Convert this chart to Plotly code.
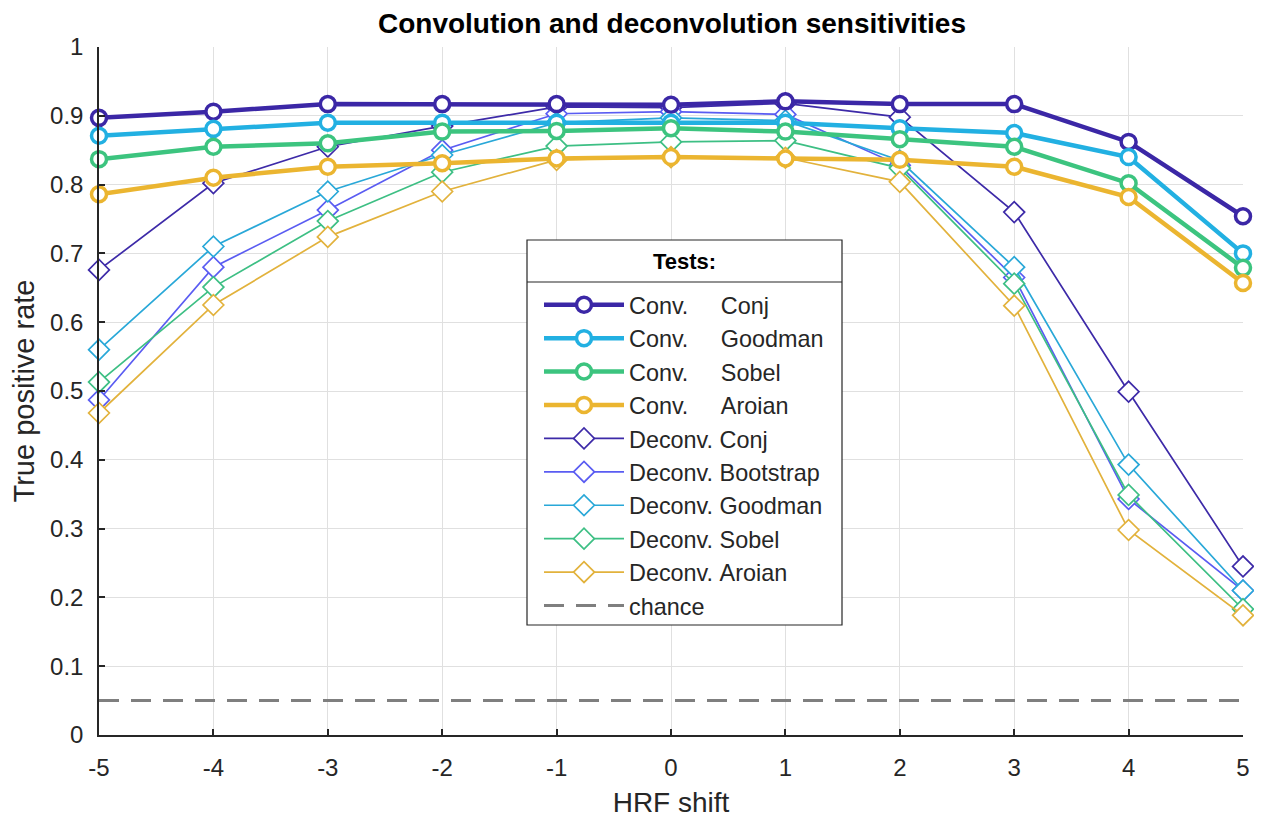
import plotly.graph_objects as go

x_shift = [-5, -4, -3, -2, -1, 0, 1, 2, 3, 4, 5]

conv_conj    = [0.897, 0.906, 0.917, 0.917, 0.917, 0.916, 0.921, 0.917, 0.917, 0.862, 0.754]
conv_goodman = [0.871, 0.881, 0.890, 0.890, 0.890, 0.890, 0.890, 0.882, 0.875, 0.840, 0.700]
conv_sobel   = [0.837, 0.855, 0.860, 0.877, 0.878, 0.882, 0.877, 0.866, 0.855, 0.802, 0.679]
conv_aroian  = [0.786, 0.810, 0.826, 0.831, 0.838, 0.840, 0.838, 0.836, 0.826, 0.782, 0.657]

deconv_conj      = [0.676, 0.802, 0.855, 0.885, 0.913, 0.912, 0.918, 0.898, 0.760, 0.499, 0.245]
deconv_bootstrap = [0.487, 0.680, 0.763, 0.850, 0.903, 0.906, 0.902, 0.828, 0.665, 0.343, 0.210]
deconv_goodman   = [0.560, 0.710, 0.790, 0.843, 0.890, 0.897, 0.893, 0.835, 0.680, 0.393, 0.210]
deconv_sobel     = [0.513, 0.651, 0.747, 0.818, 0.856, 0.862, 0.864, 0.824, 0.656, 0.349, 0.183]
deconv_aroian    = [0.468, 0.625, 0.724, 0.790, 0.836, 0.840, 0.839, 0.804, 0.624, 0.298, 0.174]

chance_level = [0.05] * len(x_shift)

y_ticks = [0, 0.1, 0.2, 0.3, 0.4, 0.5, 0.6, 0.7, 0.8, 0.9, 1]
y_ticktext = ["0", "0.1", "0.2", "0.3", "0.4", "0.5", "0.6", "0.7", "0.8", "0.9", "1"]

NB = "\u00a0"
conv_series = [
    ("Conv." + NB * 5 + "Conj", conv_conj, "#3b27a6"),
    ("Conv." + NB * 5 + "Goodman", conv_goodman, "#22b0e2"),
    ("Conv." + NB * 5 + "Sobel", conv_sobel, "#3cc47f"),
    ("Conv." + NB * 5 + "Aroian", conv_aroian, "#ebb530"),
]
deconv_series = [
    ("Deconv." + NB + "Conj", deconv_conj, "#3d2aa8"),
    ("Deconv." + NB + "Bootstrap", deconv_bootstrap, "#5a5cf2"),
    ("Deconv." + NB + "Goodman", deconv_goodman, "#29a8d8"),
    ("Deconv." + NB + "Sobel", deconv_sobel, "#3dbf84"),
    ("Deconv." + NB + "Aroian", deconv_aroian, "#e2b23c"),
]

FONT = "Liberation Sans, Arial, Helvetica, sans-serif"
TXT = "#262626"
fig = go.Figure()

ranks = {name: i + 1 for i, (name, _, _) in enumerate(conv_series + deconv_series)}

# deconvolution traces first (drawn underneath the convolution ones)
for name, vals, col in deconv_series:
    fig.add_trace(go.Scatter(
        x=x_shift, y=vals, name=name, mode="lines+markers",
        line=dict(color=col, width=1.7),
        marker=dict(symbol="diamond", size=16, color="white",
                    line=dict(color=col, width=1.7)),
        cliponaxis=False, legendgroup=name, legendrank=ranks[name],
    ))

fig.add_trace(go.Scatter(
    x=x_shift, y=chance_level, name="chance", mode="lines",
    line=dict(color="#7f7f7f", width=3, dash="20px,12px"),
    legendgroup="chance", legendrank=100,
))

for name, vals, col in conv_series:
    fig.add_trace(go.Scatter(
        x=x_shift, y=vals, name=name, mode="lines+markers",
        line=dict(color=col, width=4.5),
        marker=dict(symbol="circle", size=15, color="white",
                    line=dict(color=col, width=3.5)),
        cliponaxis=False, legendgroup=name, legendrank=ranks[name],
    ))

axis_common = dict(
    showline=True, linecolor=TXT, linewidth=1.5,
    ticks="inside", ticklen=6, tickcolor=TXT, tickwidth=1.5,
    showgrid=True, gridcolor="#e0e0e0", gridwidth=1,
    zeroline=False, mirror=False,
    tickfont=dict(family=FONT, size=24, color=TXT),
)

# legend frame (white box + border + separator under the title), in
# paper coordinates of the plot area (x 99..1243, y 47..735 on screen)
def px(xp):
    return (xp - 99) / 1144

def py(yp):
    return (735 - yp) / 688

box_l, box_r, box_t, box_b, sep_y = px(527), px(842), py(240), py(625), py(282)
fig.add_shape(type="rect", xref="paper", yref="paper",
              x0=box_l, x1=box_r, y0=box_b, y1=box_t,
              fillcolor="white", line=dict(color=TXT, width=1.2), layer="above")
fig.add_shape(type="line", xref="paper", yref="paper",
              x0=box_l, x1=box_r, y0=sep_y, y1=sep_y,
              line=dict(color=TXT, width=1.2), layer="above")
fig.add_annotation(text="<b>Tests:</b>", xref="paper", yref="paper",
                   x=(box_l + box_r) / 2, y=py(261), xanchor="center", yanchor="middle",
                   showarrow=False, font=dict(family=FONT, size=22, color="black"))

# page body has an 8px margin: compensate so the plot area lands on
# x 99..1243 and y 47..735 in the screenshot
fig.update_layout(
    width=1262, height=819,
    paper_bgcolor="white", plot_bgcolor="white",
    margin=dict(l=91, r=27, t=39, b=92, autoexpand=False),
    title=dict(text="<b>Convolution and deconvolution sensitivities</b>",
               x=(672 - 8) / 1262, xanchor="center",
               y=1 - (23 - 8) / 819, yanchor="middle",
               font=dict(family=FONT, size=28, color="black")),
    xaxis=dict(range=[-5, 5], tickmode="array", tickvals=x_shift,
               ticktext=[str(v) for v in x_shift], ticklabelstandoff=10,
               title=dict(text="HRF shift", standoff=13,
                          font=dict(family=FONT, size=28, color=TXT)),
               **axis_common),
    yaxis=dict(range=[0, 1], tickmode="array",
               tickvals=y_ticks, ticktext=y_ticktext, ticklabelstandoff=9,
               title=dict(text="True positive rate", standoff=14,
                          font=dict(family=FONT, size=29, color=TXT)),
               **axis_common),
    legend=dict(
        x=px(539), y=py(283), xanchor="left", yanchor="top",
        bgcolor="rgba(0,0,0,0)", borderwidth=0,
        font=dict(family=FONT, size=23.4, color=TXT),
        traceorder="grouped", tracegroupgap=0,
        itemwidth=80,
    ),
    showlegend=True,
)

fig.write_html("out.html")
